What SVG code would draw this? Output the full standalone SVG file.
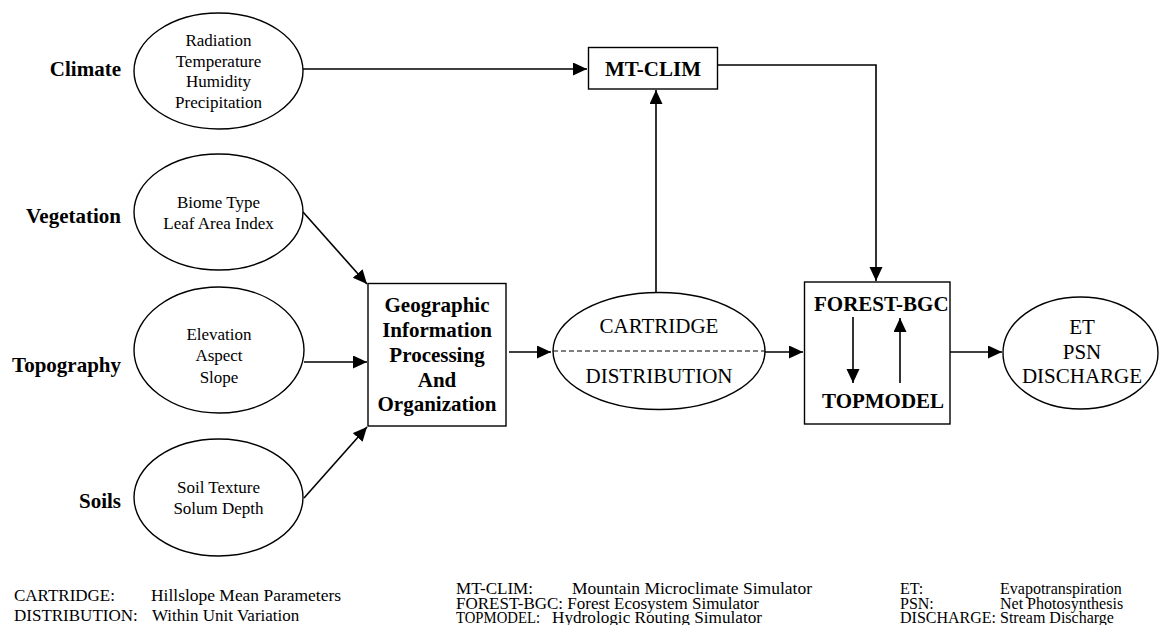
<svg xmlns="http://www.w3.org/2000/svg" width="1159" height="625" viewBox="0 0 1159 625">
<style>
text{font-family:"Liberation Serif","Times New Roman",serif;fill:#000}
.lab{font-size:21px;font-weight:bold}
.el{font-size:17px;text-anchor:middle}
.big{font-size:21px;text-anchor:middle}
.bx{font-size:21px;font-weight:bold}
.leg{font-size:17px}
.leg2{font-size:16px}
.shape{fill:#fff;stroke:#000;stroke-width:1.4}
.c{fill:none;stroke:#000;stroke-width:1.6}
</style>
<defs>
<marker id="ah" markerUnits="userSpaceOnUse" markerWidth="15" markerHeight="14" refX="14" refY="6.5" orient="auto">
<path d="M0,0 L14,6.5 L0,13 z" fill="#000"/>
</marker>
</defs>
<rect width="1159" height="625" fill="#fff"/>

<g id="climate">
<text class="lab" x="121" y="76" text-anchor="end">Climate</text>
<ellipse class="shape" cx="218.5" cy="71" rx="84.5" ry="58"/>
<text class="el" x="218.5" y="46">Radiation</text>
<text class="el" x="218.5" y="67">Temperature</text>
<text class="el" x="218.5" y="87">Humidity</text>
<text class="el" x="218.5" y="108">Precipitation</text>
</g>

<g id="vegetation">
<text class="lab" x="121" y="223" text-anchor="end">Vegetation</text>
<ellipse class="shape" cx="218.5" cy="212" rx="84.5" ry="58"/>
<text class="el" x="218.5" y="208">Biome Type</text>
<text class="el" x="218.5" y="229">Leaf Area Index</text>
</g>

<g id="topography">
<text class="lab" x="121" y="372" text-anchor="end">Topography</text>
<ellipse class="shape" cx="219" cy="350" rx="85" ry="63"/>
<text class="el" x="219" y="340">Elevation</text>
<text class="el" x="219" y="361">Aspect</text>
<text class="el" x="219" y="383">Slope</text>
</g>

<g id="soils">
<text class="lab" x="121" y="508" text-anchor="end">Soils</text>
<ellipse class="shape" cx="218.5" cy="497.5" rx="84.5" ry="58.5"/>
<text class="el" x="218.5" y="493">Soil Texture</text>
<text class="el" x="218.5" y="514">Solum Depth</text>
</g>

<g id="gis">
<rect class="shape" x="368" y="283.5" width="138" height="142.5"/>
<text class="bx" x="437" y="312" text-anchor="middle">Geographic</text>
<text class="bx" x="437" y="337" text-anchor="middle">Information</text>
<text class="bx" x="437" y="362" text-anchor="middle">Processing</text>
<text class="bx" x="437" y="387" text-anchor="middle">And</text>
<text class="bx" x="437" y="411" text-anchor="middle">Organization</text>
</g>

<g id="mtclim">
<rect class="shape" x="588.5" y="47.5" width="129" height="41.5"/>
<text class="bx" x="653" y="76" text-anchor="middle">MT-CLIM</text>
</g>

<g id="cartridge">
<ellipse class="shape" cx="659" cy="351" rx="106" ry="58.5"/>
<line x1="553" y1="351" x2="765" y2="351" stroke="#000" stroke-width="1.2" stroke-dasharray="5,3"/>
<text class="big" x="659" y="333">CARTRIDGE</text>
<text class="big" x="659" y="383">DISTRIBUTION</text>
</g>

<g id="forestbgc">
<rect class="shape" x="804.5" y="282" width="145.5" height="142"/>
<text class="bx" x="814" y="311">FOREST-BGC</text>
<text class="bx" x="822" y="408">TOPMODEL</text>
<line class="c" x1="853" y1="317" x2="853" y2="383" marker-end="url(#ah)"/>
<line class="c" x1="900" y1="383" x2="900" y2="318" marker-end="url(#ah)"/>
</g>

<g id="outputs">
<ellipse class="shape" cx="1080.5" cy="353" rx="77.5" ry="56"/>
<text class="big" x="1082" y="334">ET</text>
<text class="big" x="1082" y="359">PSN</text>
<text class="big" x="1082" y="383">DISCHARGE</text>
</g>

<g id="connectors">
<line class="c" x1="303" y1="69" x2="587" y2="69" marker-end="url(#ah)"/>
<line class="c" x1="303" y1="212" x2="367" y2="284" marker-end="url(#ah)"/>
<line class="c" x1="304" y1="362" x2="367" y2="362" marker-end="url(#ah)"/>
<line class="c" x1="304" y1="498" x2="367" y2="427" marker-end="url(#ah)"/>
<line class="c" x1="509" y1="352" x2="551" y2="352" marker-end="url(#ah)"/>
<line class="c" x1="656" y1="292" x2="656" y2="90" marker-end="url(#ah)"/>
<polyline class="c" points="718,65 876,65 876,281" marker-end="url(#ah)"/>
<line class="c" x1="765" y1="352" x2="803" y2="352" marker-end="url(#ah)"/>
<line class="c" x1="950" y1="352" x2="1002" y2="352" marker-end="url(#ah)"/>
</g>

<g id="legend">
<text class="leg" x="14" y="601">CARTRIDGE:</text>
<text class="leg" x="151" y="601" textLength="190" lengthAdjust="spacingAndGlyphs">Hillslope Mean Parameters</text>
<text class="leg" x="14" y="621">DISTRIBUTION:</text>
<text class="leg" x="152" y="621">Within Unit Variation</text>
<text class="leg2" x="456" y="594" textLength="77" lengthAdjust="spacingAndGlyphs">MT-CLIM:</text>
<text class="leg2" x="572" y="594" textLength="240" lengthAdjust="spacingAndGlyphs">Mountain Microclimate Simulator</text>
<text class="leg2" x="456" y="609" textLength="303" lengthAdjust="spacingAndGlyphs">FOREST-BGC: Forest Ecosystem Simulator</text>
<text class="leg2" x="456" y="623" textLength="84" lengthAdjust="spacingAndGlyphs">TOPMODEL:</text>
<text class="leg2" x="552" y="623" textLength="210" lengthAdjust="spacingAndGlyphs">Hydrologic Routing Simulator</text>
<text class="leg2" x="900" y="594">ET:</text>
<text class="leg2" x="1000" y="594">Evapotranspiration</text>
<text class="leg2" x="900" y="609">PSN:</text>
<text class="leg2" x="1000" y="609">Net Photosynthesis</text>
<text class="leg2" x="900" y="623">DISCHARGE: Stream Discharge</text>
</g>
</svg>
